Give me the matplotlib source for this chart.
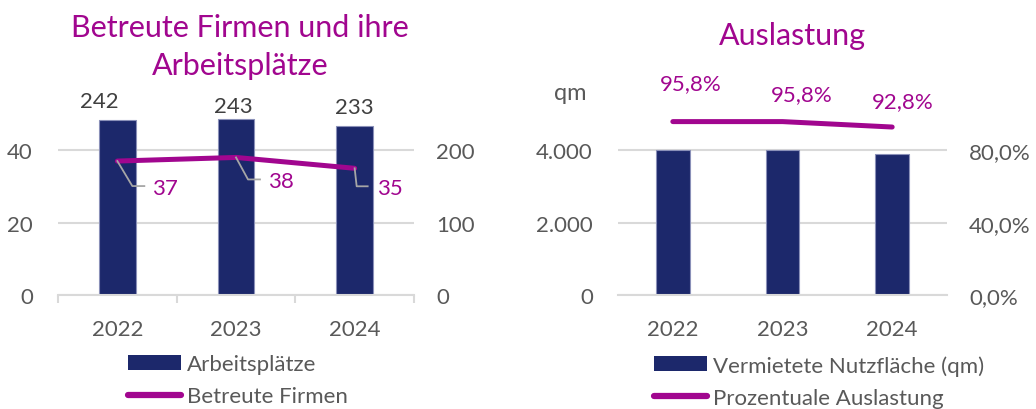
"""
Zwei Kombi-Diagramme: Firmen/Arbeitsplätze und Auslastung der Nutzfläche
"""

import matplotlib

matplotlib.use("Agg")
import matplotlib.pyplot as plt
from matplotlib.lines import Line2D
from matplotlib.patches import Patch
from matplotlib.ticker import FuncFormatter
from matplotlib.transforms import IdentityTransform

# data
years = ["2022", "2023", "2024"]
arbeitsplaetze = [242, 243, 233]
firmen = [37, 38, 35]
nutzflaeche = [4000, 4000, 3900]
auslastung = [95.8, 95.8, 92.8]

# colors
navy = "#1c286b"
purple = "#a1068f"
grid_grey = "#d9d9d9"
text_grey = "#595959"
label_grey = "#404040"

FS = 16

plt.rcParams["font.family"] = ["Lato", "DejaVu Sans"]

W, H = 1036, 410
fig = plt.figure(figsize=(W / 100, H / 100), dpi=100)


def box(x0, x1, ytop, ybot):
    return [x0 / W, 1 - ybot / H, (x1 - x0) / W, (ybot - ytop) / H]


def style_axes(ax):
    for side in ["top", "left", "right"]:
        ax.spines[side].set_visible(False)
    ax.spines["bottom"].set_color(grid_grey)
    ax.spines["bottom"].set_linewidth(1.5)
    ax.tick_params(axis="y", length=0, labelsize=FS, colors=text_grey)


def leader(ax, x, y, pts):
    # grey leader line in pixel offsets from a data point
    px, py = ax.transData.transform((x, y))
    xs = [px] + [px + dx for dx, dy in pts]
    ys = [py] + [py + dy for dx, dy in pts]
    fig.add_artist(Line2D(xs, ys, color="#a6a6a6", lw=1.3,
                          transform=IdentityTransform()))


xpos = range(len(years))

# ---- left chart: Arbeitsplätze (bars, right axis) + Betreute Firmen (line, left axis)
axl = fig.add_axes(box(58, 414, 115, 296))
axl.bar(xpos, arbeitsplaetze, width=0.31, color=navy, edgecolor="#8a90b8",
        linewidth=0.8, zorder=2)
axl.set_ylim(0, 250)
axl.set_xlim(-0.5, 2.5)
axl.set_yticks([0, 100, 200])
axl.grid(axis="y", color=grid_grey, lw=1.5, zorder=0)
axl.set_axisbelow(True)
style_axes(axl)
axl.set_xticks(xpos)
axl.set_xticklabels(years)
axl.tick_params(axis="x", length=0, labelsize=FS, colors=text_grey, pad=17)
axl.set_xticks([-0.5, 0.5, 1.5, 2.5], minor=True)
axl.tick_params(axis="x", which="minor", length=6, width=1.5, color=grid_grey)

for x, v, (dx, dy) in zip(xpos, arbeitsplaetze, [(-18, 19), (-3, 13), (0, 19)]):
    axl.annotate(str(v), (x, v), xytext=(dx, dy), textcoords="offset pixels",
                 ha="center", va="center", fontsize=FS, color=label_grey)

axl2 = axl.twinx()
axl2.plot(xpos, firmen, color=purple, lw=3.6, solid_capstyle="round", zorder=3)
axl2.set_ylim(0, 50)
axl2.set_yticks([0, 20, 40])
for side in ["top", "left", "right", "bottom"]:
    axl2.spines[side].set_visible(False)

# bars keep the right-hand scale, the line gets the left one
axl.yaxis.tick_right()
axl.tick_params(axis="y", length=0, labelsize=FS, colors=text_grey, pad=16)
axl2.yaxis.tick_left()
axl2.tick_params(axis="y", length=0, labelsize=FS, colors=text_grey, pad=18)

firm_leaders = [
    [(15, -25), (27, -25)],
    [(12, -22), (24, -22)],
    [(2, -18), (13, -18)],
]
firm_text = [(35, -27), (32, -24), (22, -20)]
for x, v, pts, (dx, dy) in zip(xpos, firmen, firm_leaders, firm_text):
    leader(axl2, x, v, pts)
    axl2.annotate(str(v), (x, v), xytext=(dx, dy), textcoords="offset pixels",
                  ha="left", va="center", fontsize=FS, color=purple)

fig.text(240 / W, 1 - 47 / H, "Betreute Firmen und ihre\nArbeitsplätze",
         ha="center", va="center", fontsize=22, color=purple, linespacing=1.4)

# ---- right chart: Nutzfläche (bars, left axis) + Auslastung (line, right axis)
axr = fig.add_axes(box(618, 947, 115, 296))
axr.bar(xpos, nutzflaeche, width=0.31, color=navy, edgecolor="#8a90b8",
        linewidth=0.8, zorder=2)
axr.set_ylim(0, 5000)
axr.set_xlim(-0.5, 2.5)
axr.set_yticks([0, 2000, 4000])
axr.yaxis.set_major_formatter(FuncFormatter(lambda v, p: f"{v:,.0f}".replace(",", ".")))
axr.grid(axis="y", color=grid_grey, lw=1.5, zorder=0)
axr.set_axisbelow(True)
style_axes(axr)
axr.tick_params(axis="y", pad=18)
axr.set_xticks(xpos)
axr.set_xticklabels(years)
axr.tick_params(axis="x", length=0, labelsize=FS, colors=text_grey, pad=17)
fig.text(570 / W, 1 - 93 / H, "qm", ha="center", va="center",
         fontsize=FS + 1, color=text_grey)

axr2 = axr.twinx()
axr2.plot(xpos, auslastung, color=purple, lw=3.6, solid_capstyle="round", zorder=3)
axr2.set_ylim(0, 100)
axr2.set_yticks([0, 40, 80])
axr2.yaxis.set_major_formatter(FuncFormatter(lambda v, p: f"{v:.1f}%".replace(".", ",")))
for side in ["top", "left", "right", "bottom"]:
    axr2.spines[side].set_visible(False)
axr2.tick_params(axis="y", length=0, labelsize=FS, colors=text_grey, pad=16)

for x, v, (dx, dy) in zip(xpos, auslastung, [(18, 39), (19, 28), (11, 26)]):
    axr2.annotate(f"{v:.1f}%".replace(".", ","), (x, v), xytext=(dx, dy),
                  textcoords="offset pixels", ha="center", va="center",
                  fontsize=FS, color=purple)

fig.text(792 / W, 1 - 36 / H, "Auslastung", ha="center", va="center",
         fontsize=22, color=purple)

# ---- legends
legend_kw = dict(frameon=False, fontsize=FS, labelcolor=text_grey,
                 handlelength=2.4, handleheight=0.65, handletextpad=0.25,
                 labelspacing=0.55, borderpad=0, borderaxespad=0, loc="upper left")
fig.legend(
    [Patch(facecolor=navy), Line2D([], [], color=purple, lw=4.5, solid_capstyle="round")],
    ["Arbeitsplätze", "Betreute Firmen"],
    bbox_to_anchor=(128 / W, 1 - 355 / H), **legend_kw,
)
fig.legend(
    [Patch(facecolor=navy), Line2D([], [], color=purple, lw=4.5, solid_capstyle="round")],
    ["Vermietete Nutzfläche (qm)", "Prozentuale Auslastung"],
    bbox_to_anchor=(654 / W, 1 - 356 / H), **legend_kw,
)

fig.savefig("out.png", dpi=100)
